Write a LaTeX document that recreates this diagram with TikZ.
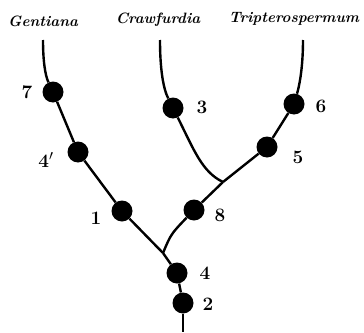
\documentclass[tikz,border=0pt]{standalone}
\usepackage{tikz}

\tikzset{
  taxon/.style={circle, fill=black, inner sep=0pt, minimum size=21pt},
  genus/.style={font=\fontsize{15}{17}\selectfont\bfseries\itshape},
  num/.style={font=\fontsize{19}{21}\selectfont\bfseries},
  branch/.style={line width=2.4pt},
}

\begin{document}
\begin{tikzpicture}[x=1pt, y=-1pt]
	\useasboundingbox (0,0) rectangle (364,332);
	% genera
	\node[genus] (gen) at (43,21) {Gentiana};
	\node[genus] (cra) at (158,20) {Crawfurdia};
	\node[genus] (tri) at (294,19) {Tripterospermum};
	\coordinate (gtop) at (43,40);
	\coordinate (ctop) at (160,40);
	\coordinate (ttop) at (303,40);
	\coordinate (j1) at (163,253);
	\coordinate (j2) at (223,182);
	\coordinate (root) at (183,332);
	% character states
	\node[taxon] (n7) at (53,92) {};
	\node[taxon] (n4p) at (78,152) {};
	\node[taxon] (n1) at (122,211) {};
	\node[taxon] (n4) at (177,273) {};
	\node[taxon] (n2) at (183,303) {};
	\node[taxon] (n8) at (194,210) {};
	\node[taxon] (n5) at (267,147) {};
	\node[taxon] (n6) at (294,104) {};
	\node[taxon] (n3) at (173,108) {};
	\node[num] (l7) at (27,92) {7};
	\node[num] (l4p) at (46,160) {4$'$};
	\node[num] (l1) at (96,218) {1};
	\node[num] (l4) at (205,273) {4};
	\node[num] (l2) at (208,304) {2};
	\node[num] (l8) at (220,215) {8};
	\node[num] (l5) at (298,157) {5};
	\node[num] (l6) at (321,106) {6};
	\node[num] (l3) at (202,107) {3};
	% branches
	\draw[branch] (gtop) .. controls (43,60) and (45,75) .. (n7);
	\draw[branch] (n7) -- (n4p);
	\draw[branch] (n4p) -- (n1);
	\draw[branch] (n1) -- (j1);
	\draw[branch] (j1) -- (n4);
	\draw[branch] (n4) -- (n2);
	\draw[branch] (n2) -- (root);
	\draw[branch] (j1) .. controls (171,234) .. (n8);
	\draw[branch] (n8) -- (j2);
	\draw[branch] (j2) -- (n5);
	\draw[branch] (n5) -- (n6);
	\draw[branch] (ttop) .. controls (303,60) and (301,80) .. (n6);
	\draw[branch] (ctop) .. controls (160,68) and (163,88) .. (n3);
	\draw[branch] (n3) .. controls (194,150) and (202,172) .. (j2);
\end{tikzpicture}
\end{document}
